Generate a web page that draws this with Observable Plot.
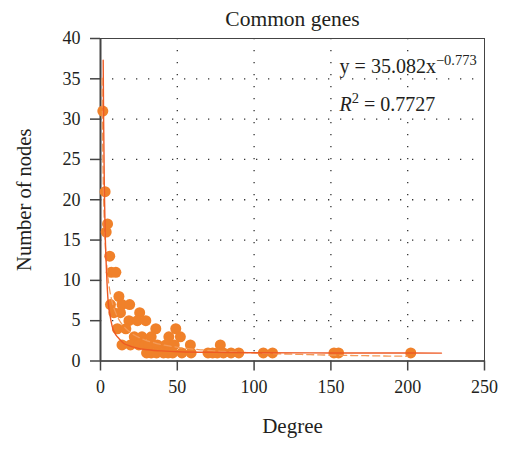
<!DOCTYPE html>
<html>
<head>
<meta charset="utf-8">
<script src="https://cdn.jsdelivr.net/npm/d3@7"></script>
<script src="https://cdn.jsdelivr.net/npm/@observablehq/plot@0.6"></script>
<style>
  body { margin: 0; background: #fff; }
</style>
</head>
<body>
<div id="chart"></div>
<script>
// Degree distribution of the common genes network
const degree = [
  1.5, 3, 3.7, 4.6, 6, 7, 10, 12,
  6.5, 14, 19, 8.7, 13, 25.5,
  18.5, 24, 29.5, 11, 16.5, 36, 49,
  22, 27, 33, 44.5, 52,
  14, 19.5, 25, 29, 31.5, 37, 42.5, 48, 58.5, 78,
  30, 33, 36.5, 41, 44, 47, 53, 59, 70, 73, 76, 80, 85, 90, 106, 112, 152, 155, 202
];
const nodes = [
  31, 21, 16, 17, 13, 11, 11, 8,
  7, 7, 7, 6, 6, 6,
  5, 5, 5, 4, 4, 4, 4,
  3, 3, 3, 3, 3,
  2, 2, 2, 2, 2, 2, 2, 2, 2, 2,
  1, 1, 1, 1, 1, 1, 1, 1, 1, 1, 1, 1, 1, 1, 1, 1, 1, 1, 1
];

// Power-law trendline y = a * x^b and its R²
const fitA = 35.082;
const fitB = -0.773;
const fitR2 = 0.7727;
const fitRange = [1, 200];

// Smoothed curve through the distribution
const curveDegree = [1.75, 2, 2.5, 3, 3.9, 5, 6, 7.6, 10, 12, 15, 18.5, 24, 29, 40, 51, 75, 100, 150, 222];
const curveNodes  = [37.3, 30.5, 21.5, 16.2, 11.2, 7.3, 5.9, 4.3, 3.25, 2.8, 2.2, 1.9, 1.6, 1.42, 1.25, 1.15, 1.07, 1.03, 1.0, 0.98];

const xTicks = [0, 50, 100, 150, 200, 250];
const yTicks = [0, 5, 10, 15, 20, 25, 30, 35, 40];
const xGrid = [50, 100, 150, 200];
const yGrid = [5, 10, 15, 20, 25, 30, 35];

const points = degree.map((d, i) => ({degree: d, nodes: nodes[i]}));
const curve = curveDegree.map((d, i) => ({degree: d, nodes: curveNodes[i]}));
const fit = d3.range(0, 1.0001, 0.004).map(t => {
  const x = fitRange[0] * Math.pow(fitRange[1] / fitRange[0], t);
  return {degree: x, nodes: fitA * Math.pow(x, fitB)};
});

const font = "'Liberation Serif', 'DejaVu Serif', serif";
const ink = "#231f20";
const axisInk = "#444";

const chart = Plot.plot({
  width: 507,
  height: 449,
  marginLeft: 100,
  marginRight: 23,
  marginTop: 38,
  marginBottom: 88.5,
  style: {fontFamily: font, fontSize: "18px", color: ink, background: "#fff"},
  x: {domain: [0, 250]},
  y: {domain: [0, 40]},
  marks: [
    Plot.gridX(xGrid, {stroke: "#333", strokeOpacity: 1, strokeWidth: 1.3, strokeDasharray: "1.3,10.7"}),
    Plot.gridY(yGrid, {stroke: "#333", strokeOpacity: 1, strokeWidth: 1.3, strokeDasharray: "1.3,10.7"}),
    Plot.frame({stroke: axisInk, strokeWidth: 1}),
    Plot.ruleX([0], {stroke: axisInk, strokeWidth: 2}),
    Plot.ruleY([0], {stroke: axisInk, strokeWidth: 1.6}),
    Plot.axisX({ticks: xTicks, tickSize: 10, tickPadding: 9, stroke: axisInk, strokeWidth: 1.5, label: null, fill: ink}),
    Plot.axisY({ticks: yTicks, tickSize: 10, tickPadding: 10, stroke: axisInk, strokeWidth: 1.5, label: null, fill: ink}),
    Plot.dot(points, {x: "degree", y: "nodes", r: 5.5, fill: "#f0812a", stroke: "none"}),
    Plot.line(fit, {x: "degree", y: "nodes", stroke: "#f39a58", strokeWidth: 1.3, strokeDasharray: "7,4"}),
    Plot.line(curve, {x: "degree", y: "nodes", stroke: "#ee5a24", strokeWidth: 1.4, curve: "monotone-x"}),
    Plot.text(["Common genes"], {frameAnchor: "top", dy: -28, fontSize: 21.5, fill: ink}),
    Plot.text(["Degree"], {frameAnchor: "bottom", dy: 72, fontSize: 21, fill: ink}),
    Plot.text(["Number of nodes"], {frameAnchor: "left", textAnchor: "middle", dx: -76, rotate: -90, fontSize: 20.5, fill: ink})
  ]
});

document.getElementById("chart").appendChild(chart);

// Trendline equation and R² with superscripts
const sx = chart.scale("x"), sy = chart.scale("y");
const svg = d3.select(chart);
const eqX = sx.apply(156);
const minus = s => String(s).replace("-", "\u2212");

const eq = svg.append("text")
  .attr("x", eqX).attr("y", sy.apply(35.7)).attr("text-anchor", "start")
  .attr("font-family", font).attr("font-size", 20).attr("fill", ink);
eq.append("tspan").text(`y = ${fitA}x`);
eq.append("tspan").attr("dy", -8).attr("font-size", 14.5).text(minus(fitB));

const r2 = svg.append("text")
  .attr("x", eqX).attr("y", sy.apply(31.0)).attr("text-anchor", "start")
  .attr("font-family", font).attr("font-size", 20).attr("fill", ink);
r2.append("tspan").attr("font-style", "italic").text("R");
r2.append("tspan").attr("dy", -8).attr("font-size", 14.5).text("2");
r2.append("tspan").attr("dy", 8).text(` = ${fitR2}`);
</script>
</body>
</html>
